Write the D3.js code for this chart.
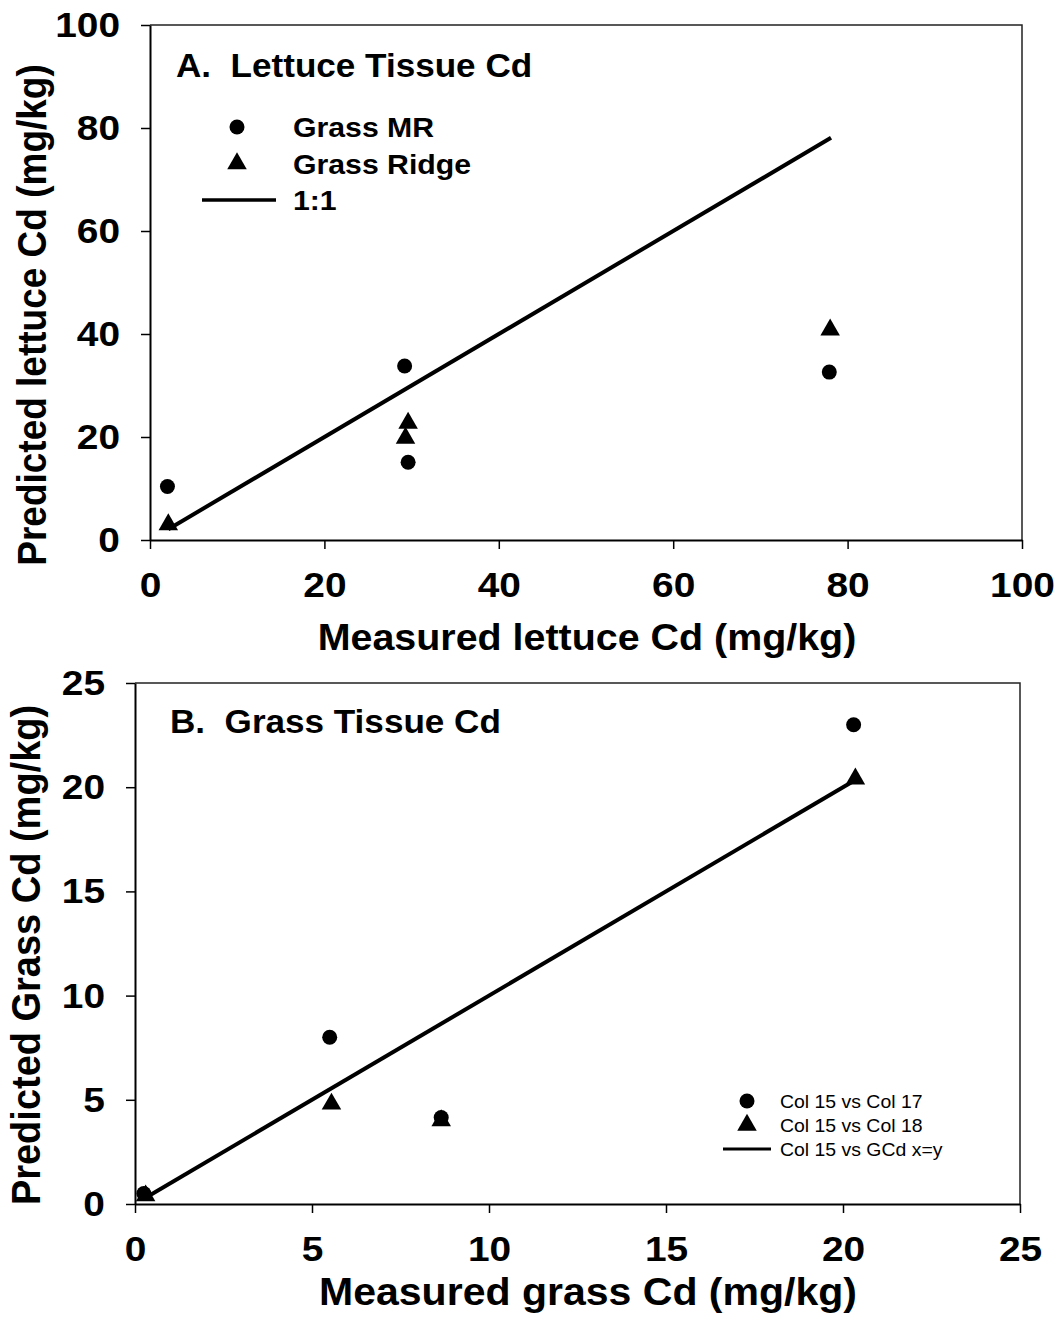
<!DOCTYPE html>
<html>
<head>
<meta charset="utf-8">
<script src="https://cdn.jsdelivr.net/npm/d3@7"></script>
<style>
  body { margin: 0; background: #fff; }
  svg { display: block; font-family: "Liberation Sans", Arial, sans-serif; }
</style>
</head>
<body>
<div id="chart"></div>
<script>
// panel A - lettuce
var lettuceMeasuredMR = [2.0, 29.2, 29.6, 77.9];
var lettucePredMR = [10.4, 33.8, 15.1, 32.6];
var lettuceMeasuredRidge = [2.1, 29.3, 29.6, 78.0];
var lettucePredRidge = [3.0, 19.8, 22.7, 40.8];
var lettuceLine = [2.1, 78.1];
var lettuceTicks = [0, 20, 40, 60, 80, 100];

// panel B - grass
var grassMeasured17 = [0.25, 5.5, 8.65, 20.3];
var grassPred17 = [0.5, 8.0, 4.15, 23.0];
var grassMeasured18 = [0.3, 5.55, 8.65, 20.35];
var grassPred18 = [0.4, 4.8, 4.0, 20.4];
var grassLine = [0.3, 20.3];
var grassTicks = [0, 5, 10, 15, 20, 25];

// the original text is a bit wider than Arial, stretch it horizontally
var sx = 1.08;

var svg = d3.select("#chart")
        .append("svg")
        .attr("width", 1061)
        .attr("height", 1321);

function zip(xs, ys){ return xs.map(function(x, i){ return {x: x, y: ys[i]}; }); }

function label(parent, x, y, txt, size, weight, anchor, rot){
    return parent.append("text")
            .attr("transform", "translate(" + x + "," + y + ") scale(" + sx + ",1)" + (rot ? " rotate(" + rot + ")" : ""))
            .attr("text-anchor", anchor || "start")
            .attr("font-size", size)
            .attr("font-weight", weight || "bold")
            .attr("xml:space", "preserve")
            .text(txt);
}

function drawPanel(o){
    var g = svg.append("g")
            .attr("transform", "translate(" + o.left + "," + o.top + ")");

    var x = d3.scaleLinear().domain(o.domain).range([0, o.width]);
    var y = d3.scaleLinear().domain(o.domain).range([o.height, 0]);

    // frame top + right
    g.append("path")
            .attr("d", "M0,0H" + o.width + "V" + o.height)
            .attr("fill", "none")
            .attr("stroke", "#222")
            .attr("stroke-width", 1.5);

    var xAxis = g.append("g")
            .attr("transform", "translate(0," + o.height + ")")
            .call(d3.axisBottom(x).tickValues(o.ticks).tickSize(9).tickSizeOuter(0).tickPadding(22));
    var yAxis = g.append("g")
            .call(d3.axisLeft(y).tickValues(o.ticks).tickSize(9).tickSizeOuter(0).tickPadding(21));

    [xAxis, yAxis].forEach(function(a){
        a.select(".domain").attr("stroke", "#000").attr("stroke-width", 2);
        a.selectAll(".tick line").attr("stroke", "#000").attr("stroke-width", 1.5);
        a.selectAll(".tick text")
                .attr("fill", "#000")
                .attr("font-size", 36)
                .attr("font-weight", "bold")
                .attr("font-family", "Liberation Sans, Arial, sans-serif")
                .attr("transform", "scale(" + sx + ",1)");
    });
    yAxis.selectAll(".tick text").attr("x", -30 / sx);

    // 1:1 line
    g.append("path")
            .datum(o.line)
            .attr("fill", "none")
            .attr("stroke", "#000")
            .attr("stroke-width", 4)
            .attr("d", d3.line().x(function(d){ return x(d); }).y(function(d){ return y(d); }));

    var tri = d3.symbol().type(d3.symbolTriangle).size(165);

    g.selectAll("circ")
            .data(o.circles)
            .enter()
            .append("circle")
            .attr("cx", function(d){ return x(d.x); })
            .attr("cy", function(d){ return y(d.y); })
            .attr("r", 7.5)
            .attr("fill", "#000");

    g.selectAll("tri")
            .data(o.triangles)
            .enter()
            .append("path")
            .attr("d", tri)
            .attr("transform", function(d){ return "translate(" + x(d.x) + "," + y(d.y) + ")"; })
            .attr("fill", "#000");

    // titles
    label(g, o.titlePos[0], o.titlePos[1], o.title, 32.5);
    label(svg, o.xTitlePos[0], o.xTitlePos[1], o.xTitle, o.axisFont[0], "bold", "middle");
    label(svg, o.yTitlePos[0], o.yTitlePos[1], o.yTitle, o.axisFont[1], "bold", "middle", -90);

    // legend
    var L = o.legend;
    var lg = g.append("g").attr("transform", "translate(" + L.x + "," + L.y + ")");
    lg.append("circle").attr("cx", L.marker).attr("cy", 0).attr("r", 7.5).attr("fill", "#000");
    lg.append("path").attr("d", tri).attr("transform", "translate(" + L.marker + "," + L.gap + ")").attr("fill", "#000");
    lg.append("line")
            .attr("x1", L.lineX[0]).attr("x2", L.lineX[1])
            .attr("y1", L.gap * 2).attr("y2", L.gap * 2)
            .attr("stroke", "#000").attr("stroke-width", L.lineW);
    L.labels.forEach(function(d, i){
        label(lg, L.textX, i * L.gap + L.dy, d, L.fontSize, L.weight);
    });
}

drawPanel({
    left: 150, top: 25, width: 872, height: 515,
    domain: [0, 100], ticks: lettuceTicks,
    circles: zip(lettuceMeasuredMR, lettucePredMR),
    triangles: zip(lettuceMeasuredRidge, lettucePredRidge),
    line: lettuceLine,
    title: "A.  Lettuce Tissue Cd", titlePos: [26, 52],
    axisFont: [36.5, 37],
    xTitle: "Measured lettuce Cd (mg/kg)", xTitlePos: [587, 650],
    yTitle: "Predicted lettuce Cd (mg/kg)", yTitlePos: [46, 315],
    legend: {x: 0, y: 102, marker: 87, gap: 36.5, lineX: [52, 126], lineW: 3.5,
             textX: 143, dy: 10, fontSize: 28, weight: "bold",
             labels: ["Grass MR", "Grass Ridge", "1:1"]}
});

drawPanel({
    left: 135, top: 683, width: 885, height: 521,
    domain: [0, 25], ticks: grassTicks,
    circles: zip(grassMeasured17, grassPred17),
    triangles: zip(grassMeasured18, grassPred18),
    line: grassLine,
    title: "B.  Grass Tissue Cd", titlePos: [35, 50],
    axisFont: [38, 38],
    xTitle: "Measured grass Cd (mg/kg)", xTitlePos: [588, 1305],
    yTitle: "Predicted Grass Cd (mg/kg)", yTitlePos: [40, 955],
    legend: {x: 0, y: 418, marker: 612, gap: 24, lineX: [588, 636], lineW: 3,
             textX: 645, dy: 7, fontSize: 18, weight: "normal",
             labels: ["Col 15 vs Col 17", "Col 15 vs Col 18", "Col 15 vs GCd x=y"]}
});
</script>
</body>
</html>
